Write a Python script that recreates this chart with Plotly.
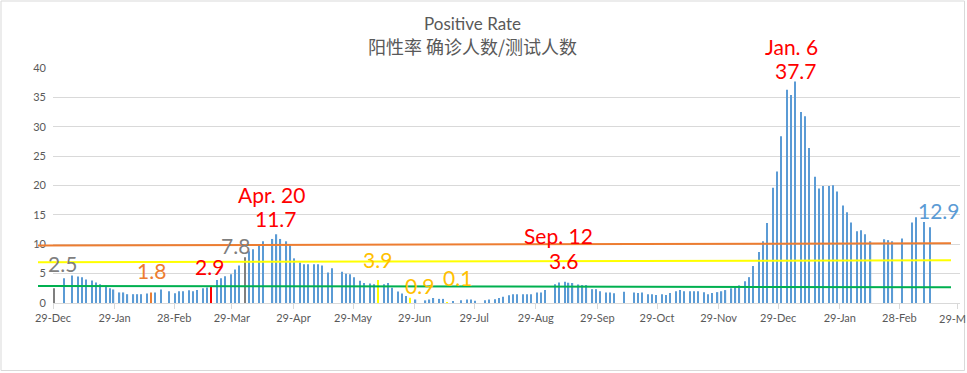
import pandas as pd
import plotly.graph_objects as go

# ---------------- data ----------------
START = "2020-12-29"
days_since_start = [
    0, 5, 9, 12, 14, 16, 19, 21, 23, 26, 28, 30, 33, 35, 37, 40, 42, 44, 47, 49,
    51, 54, 58, 61, 63, 65, 68, 70, 72, 75, 77, 79, 82, 84, 86, 89, 91, 93, 96, 98,
    100, 103, 105, 110, 112, 114, 117, 119, 121, 124, 126, 128, 131, 133, 135, 138, 140, 145, 147, 149,
    151, 154, 156, 159, 161, 163, 166, 168, 170, 173, 175, 177, 179, 182, 187, 189, 191, 194, 196, 198,
    201, 205, 208, 210, 212, 217, 219, 222, 224, 226, 229, 231, 233, 236, 238, 240, 243, 245, 247, 252,
    254, 257, 259, 261, 264, 266, 268, 271, 273, 275, 278, 280, 282, 287, 292, 294, 296, 299, 301, 303,
    306, 308, 310, 313, 315, 317, 320, 322, 324, 327, 329, 331, 334, 336, 338, 341, 343, 345, 348, 350,
    352, 355, 357, 359, 362, 364, 366, 369, 371, 373, 376, 378, 380, 383, 385, 387, 390, 392, 394, 397,
    399, 401, 404, 406, 408, 411, 418, 420, 422, 427, 432, 434, 438, 441,
]
positive_rate = [
    2.5, 4.2, 4.7, 4.5, 4.4, 4.0, 3.85, 3.5, 3.2, 3.0, 2.5, 2.3, 1.8, 1.8, 1.5, 1.5, 1.5, 1.5, 1.6, 1.8,
    1.8, 2.3, 2.0, 1.65, 2.0, 2.0, 2.15, 2.0, 2.2, 2.5, 2.65, 2.9, 3.9, 4.2, 4.55, 4.9, 5.7, 6.4, 7.8, 8.8,
    9.15, 9.7, 10.5, 10.9, 11.7, 10.9, 10.5, 9.85, 7.6, 6.9, 6.6, 6.6, 6.6, 6.6, 6.4, 5.2, 5.9, 5.3, 5.0, 4.9,
    4.4, 3.8, 3.4, 3.3, 3.2, 3.9, 3.2, 3.4, 2.6, 1.95, 1.6, 1.2, 0.9, 0.6, 0.45, 0.6, 0.85, 0.7, 0.7, 0.1,
    0.2, 0.45, 0.6, 0.6, 0.4, 0.45, 0.6, 0.65, 0.85, 1.05, 1.3, 1.5, 1.5, 1.5, 1.5, 1.5, 1.8, 1.8, 2.2, 3.2,
    3.5, 3.6, 3.45, 3.4, 3.15, 3.05, 3.05, 2.35, 2.35, 2.0, 1.8, 1.8, 1.65, 1.9, 1.8, 1.7, 1.8, 1.5, 1.5, 1.35,
    1.5, 1.35, 1.7, 2.0, 2.2, 2.0, 2.0, 2.0, 2.0, 1.85, 1.5, 1.7, 1.85, 2.0, 2.2, 2.5, 2.8, 3.0, 3.7, 4.4,
    6.3, 8.7, 10.5, 13.6, 19.6, 22.4, 28.4, 36.3, 35.4, 37.7, 32.5, 31.8, 26.4, 21.5, 19.5, 19.9, 19.9, 20.05, 19.0, 16.6,
    15.45, 13.7, 12.2, 12.4, 11.7, 10.5, 10.85, 10.7, 10.5, 11.0, 13.7, 14.6, 13.8, 12.9,
]

tick_dates = ["2020-12-29", "2021-01-29", "2021-02-28", "2021-03-29", "2021-04-29", "2021-05-29",
              "2021-06-29", "2021-07-29", "2021-08-29", "2021-09-29", "2021-10-29", "2021-11-29",
              "2021-12-29", "2022-01-29", "2022-02-28", "2022-03-29"]
# the last label is cut off by the chart edge in the original ("29-M")
tick_labels = ["29-Dec", "29-Jan", "28-Feb", "29-Mar", "29-Apr", "29-May", "29-Jun", "29-Jul",
               "29-Aug", "29-Sep", "29-Oct", "29-Nov", "29-Dec", "29-Jan", "28-Feb", ""]
last_tick_label = "29-M"

# reference lines: value at left end, value at right end
orange_line = [9.8, 10.15]
yellow_line = [6.92, 7.28]
green_line = [2.9, 2.7]

title_en = "Positive Rate"
title_zh = "阳性率 确诊人数/测试人数"

# ---------------- styles ----------------
BLUE = "#5B9BD5"
GRAY = "#7F7F7F"
ORANGE = "#ED7D31"
RED = "#FF0000"
YELLOW = "#FFFF00"
GOLD = "#FFC000"
GREEN = "#00B050"
GRID = "#D9D9D9"
TXT = "#595959"

highlight = {0: GRAY, 49: ORANGE, 79: RED, 96: GRAY, 163: YELLOW, 179: YELLOW, 198: YELLOW}
bar_colors = [highlight.get(d, BLUE) for d in days_since_start]

start = pd.Timestamp(START)
bar_x = [(start + pd.Timedelta(days=d, hours=12)).strftime("%Y-%m-%d %H:%M") for d in days_since_start]

W_PX, H_PX = 967, 373
L, R, T, B = 53, 960, 68, 303


def px(x):
    return (x - L) / (R - L)


def py(y):
    return (B - y) / (B - T)


fig = go.Figure()
fig.add_trace(go.Bar(
    x=bar_x, y=positive_rate, marker=dict(color=bar_colors, line=dict(width=0)),
    width=0.62 * 86400000, hoverinfo="x+y",
))

shapes = []
for vals, col in [(orange_line, ORANGE), (yellow_line, YELLOW), (green_line, GREEN)]:
    shapes.append(dict(type="line", xref="paper", yref="y", x0=px(38), x1=px(951),
                       y0=vals[0], y1=vals[1], line=dict(color=col, width=2), layer="above"))
# outer chart border
shapes.append(dict(type="rect", xref="paper", yref="paper", x0=px(1), x1=px(964.5),
                   y0=py(370.5), y1=py(1), line=dict(color=GRID, width=1), layer="above"))

FONT = "Lato, 'Noto Sans', sans-serif"
labels = [
    ("2.5", 62, 263.5, GRAY), ("1.8", 151.7, 270, ORANGE), ("2.9", 209, 266, RED),
    ("7.8", 235, 245.5, GRAY), ("Apr. 20", 271.5, 194, RED), ("11.7", 276, 218.5, RED),
    ("3.9", 377, 259.5, GOLD), ("0.9", 419.5, 285.5, GOLD), ("0.1", 457.5, 277.5, GOLD),
    ("Sep. 12", 558, 236, RED), ("3.6", 563.5, 260.5, RED), ("Jan. 6", 791, 46.5, RED),
    ("37.7", 795.5, 70, RED), ("12.9", 939, 210, BLUE),
]
annotations = []
for text, x, y, col in labels:
    annotations.append(dict(text=text, xref="paper", yref="paper", x=px(x), y=py(y),
                            xanchor="center", yanchor="middle", showarrow=False,
                            font=dict(family=FONT, size=21, color=col)))
annotations.append(dict(text=title_en, xref="paper", yref="paper", x=px(472), y=py(24),
                        xanchor="center", yanchor="middle", showarrow=False,
                        font=dict(family=FONT, size=17, color=TXT)))
annotations.append(dict(text=title_zh, xref="paper", yref="paper", x=px(472.5), y=py(46),
                        xanchor="center", yanchor="middle", showarrow=False,
                        font=dict(family="'Noto Sans CJK SC', sans-serif", size=18, color=TXT)))
annotations.append(dict(text=last_tick_label, xref="paper", yref="paper", x=px(936.5), y=py(318),
                        xanchor="left", yanchor="middle", showarrow=False,
                        font=dict(family=FONT, size=11, color=TXT)))

fig.update_layout(
    width=W_PX, height=H_PX,
    margin=dict(l=L, r=W_PX - R, t=T, b=H_PX - B, pad=0),
    paper_bgcolor="white", plot_bgcolor="white",
    showlegend=False,
    shapes=shapes, annotations=annotations,
    font=dict(family=FONT, size=11, color=TXT),
    xaxis=dict(
        type="date",
        range=[start.strftime("%Y-%m-%d"), (start + pd.Timedelta(days=456.5)).strftime("%Y-%m-%d %H:%M")],
        tickvals=tick_dates, ticktext=tick_labels,
        ticks="outside", ticklen=5, tickcolor=GRID, tickwidth=1,
        showline=True, linecolor=GRID, linewidth=1,
        showgrid=False, zeroline=False,
        tickfont=dict(family=FONT, size=11, color=TXT),
    ),
    yaxis=dict(
        range=[0, 40], tickvals=[0, 5, 10, 15, 20, 25, 30, 35, 40],
        showgrid=True, gridcolor=GRID, gridwidth=1, zeroline=False,
        ticks="", ticklabelstandoff=6,
        tickfont=dict(family=FONT, size=11, color=TXT),
    ),
)

fig.write_html(
    "out.html",
    config={"displayModeBar": False},
    post_script="document.body.style.margin='0';document.body.style.padding='0';",
)
